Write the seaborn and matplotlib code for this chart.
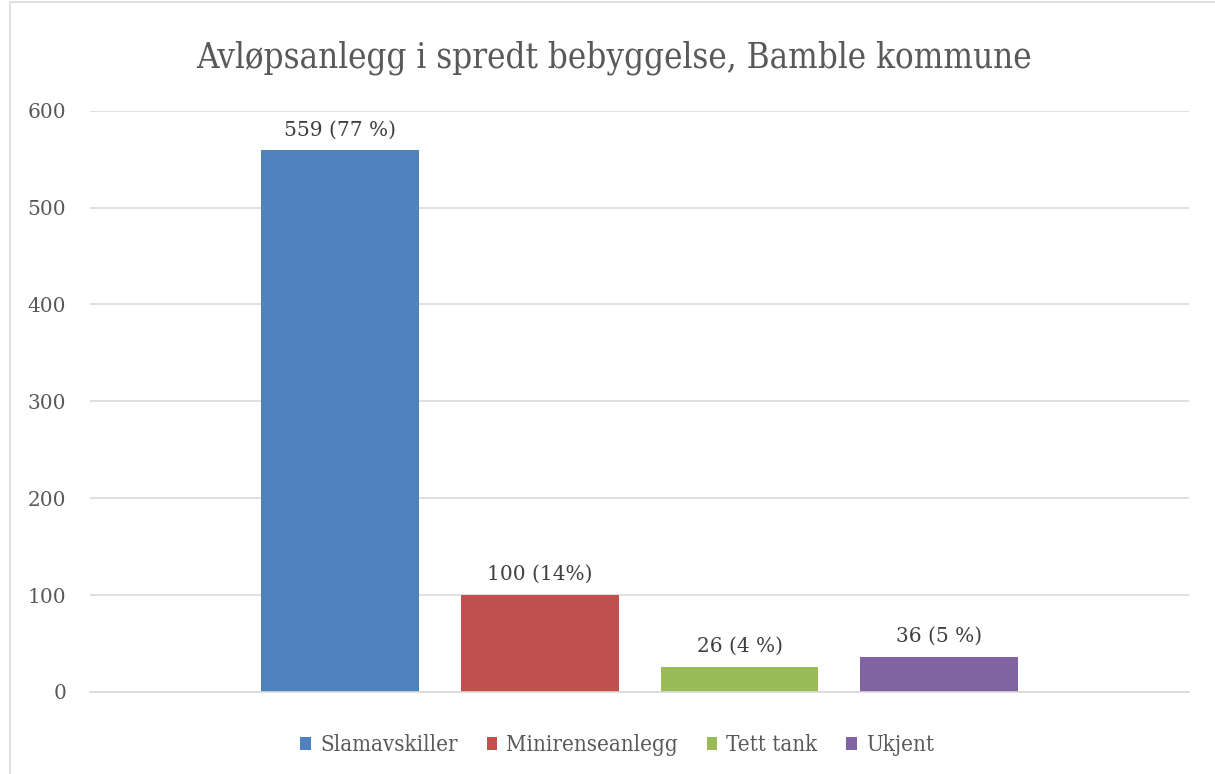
import matplotlib
matplotlib.use('Agg')
import matplotlib.pyplot as plt
import seaborn as sns
import pandas as pd
from matplotlib.patches import Patch

# ---------------- data ----------------
categories = ['Slamavskiller', 'Minirenseanlegg', 'Tett tank', 'Ukjent']
counts = [559, 100, 26, 36]
bar_labels = ['559 (77 %)', '100 (14%)', '26 (4 %)', '36 (5 %)']
colors = ['#4F81BD', '#C0504D', '#9BBB59', '#8064A2']
yticks = [0, 100, 200, 300, 400, 500, 600]

df = pd.DataFrame({'type': categories, 'count': counts})

sns.set_theme(style='white')
plt.rcParams['font.family'] = ['DejaVu Serif']
txt = '#595959'

fig = plt.figure(figsize=(12.15, 7.74), dpi=100)
ax = fig.add_axes([0.074, 0.106, 0.905, 0.751])

sns.barplot(data=df, x='type', y='count', hue='type', palette=colors,
            width=0.79, saturation=1, legend=False, linewidth=0, ax=ax)

ax.set_xlim(-1.254, 4.254)
ax.set_ylim(0, 600)
ax.set_yticks(yticks)
ax.set_yticklabels([str(t) for t in yticks], fontsize=14.5, color=txt)
ax.set_xticks([])
ax.set_xlabel('')
ax.set_ylabel('')
ax.tick_params(axis='y', length=0, pad=17)
ax.grid(axis='y', color='#D9D9D9', linewidth=1.2)
ax.set_axisbelow(True)
for s in ['top', 'right', 'left']:
    ax.spines[s].set_visible(False)
ax.spines['bottom'].set_color('#D9D9D9')
ax.spines['bottom'].set_linewidth(1.2)

for cont, lab in zip(ax.containers, bar_labels):
    ax.bar_label(cont, labels=[lab], padding=8, fontsize=14.5, color='#404040')

fig.text(0.505, 0.926, 'Avløpsanlegg i spredt bebyggelse, Bamble kommune',
         ha='center', va='center', fontsize=25, color=txt, fontstretch='condensed')

handles = [Patch(facecolor=c, edgecolor='none') for c in colors]
fig.legend(handles, categories, loc='center', bbox_to_anchor=(0.508, 0.037),
           ncol=4, frameon=False, handlelength=0.48, handleheight=0.48,
           handletextpad=0.4, columnspacing=1.3, labelcolor=txt,
           prop={'family': 'DejaVu Serif', 'stretch': 'condensed', 'size': 16})

# outer chart frame
fig.patches.append(plt.Rectangle((0.008, -0.01), 1.0, 1.007, transform=fig.transFigure,
                                 fill=False, edgecolor='#D9D9D9', linewidth=1.2))

fig.savefig('out.png', dpi=100)
